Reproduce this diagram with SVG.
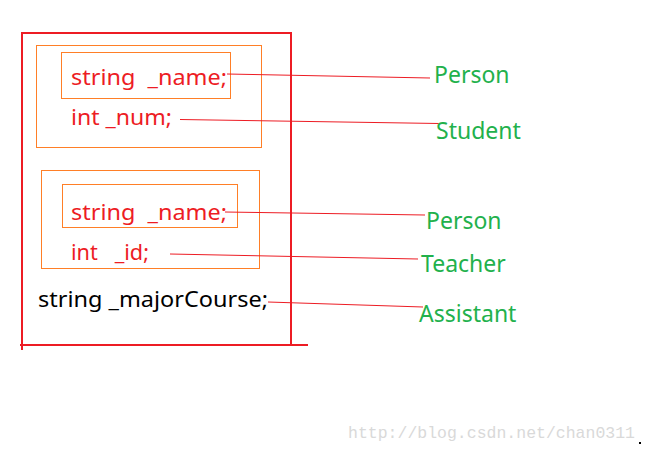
<svg xmlns="http://www.w3.org/2000/svg" width="649" height="452" viewBox="0 0 649 452">
<style>
.frame{stroke:#ed1c24;stroke-width:2;fill:none}
.box{stroke:#ff7f27;stroke-width:1;fill:none}
.field{font-family:"Noto Sans","Liberation Sans",sans-serif;font-size:22px;fill:#ed1c24;white-space:pre}
.black{fill:#000}
.lbl{font-family:"Noto Sans","Liberation Sans",sans-serif;font-size:23px;fill:#22b14c}
.conn line{stroke:#ed1c24;stroke-width:1}
.wm{font-family:"Liberation Mono",monospace;font-size:17px;fill:#d9d9d9}
</style>
<rect width="649" height="452" fill="#fff"/>
<g id="assistant">
<line class="frame" x1="21" y1="33" x2="292" y2="33"/>
<line class="frame" x1="291" y1="33" x2="291" y2="345"/>
<line class="frame" x1="22" y1="33" x2="22" y2="350"/>
<line class="frame" x1="20" y1="345" x2="308" y2="345"/>
<text class="field black" x="38" y="307" textLength="230" lengthAdjust="spacingAndGlyphs">string _majorCourse;</text>
</g>
<g id="student">
<rect class="box" x="36.5" y="45.5" width="225" height="102"/>
<text class="field" x="71" y="125" textLength="101" lengthAdjust="spacingAndGlyphs">int _num;</text>
</g>
<g id="person1">
<rect class="box" x="61.5" y="52.5" width="169" height="46"/>
<text class="field" xml:space="preserve" x="71" y="85" textLength="156" lengthAdjust="spacingAndGlyphs">string  _name;</text>
</g>
<g id="teacher">
<rect class="box" x="41.5" y="170.5" width="218" height="98"/>
<text class="field" xml:space="preserve" x="71" y="260" textLength="78" lengthAdjust="spacingAndGlyphs">int   _id;</text>
</g>
<g id="person2">
<rect class="box" x="62.5" y="184.5" width="175" height="43"/>
<text class="field" xml:space="preserve" x="71" y="220" textLength="156" lengthAdjust="spacingAndGlyphs">string  _name;</text>
</g>
<g class="conn" id="connectors">
<line x1="227" y1="74" x2="430" y2="78"/>
<line x1="180" y1="119.5" x2="439" y2="123.5"/>
<line x1="225" y1="212" x2="425" y2="215"/>
<line x1="170" y1="254" x2="418" y2="259"/>
<line x1="268" y1="302" x2="423" y2="307"/>
</g>
<g id="labels">
<text class="lbl" x="434" y="83">Person</text>
<text class="lbl" x="436" y="139">Student</text>
<text class="lbl" x="426" y="229">Person</text>
<text class="lbl" x="421" y="272">Teacher</text>
<text class="lbl" x="419" y="322">Assistant</text>
</g>
<text class="wm" x="348" y="438" textLength="287" lengthAdjust="spacingAndGlyphs">http://blog.csdn.net/chan0311</text>
<rect x="639" y="442" width="2" height="2" fill="#000"/>
</svg>
